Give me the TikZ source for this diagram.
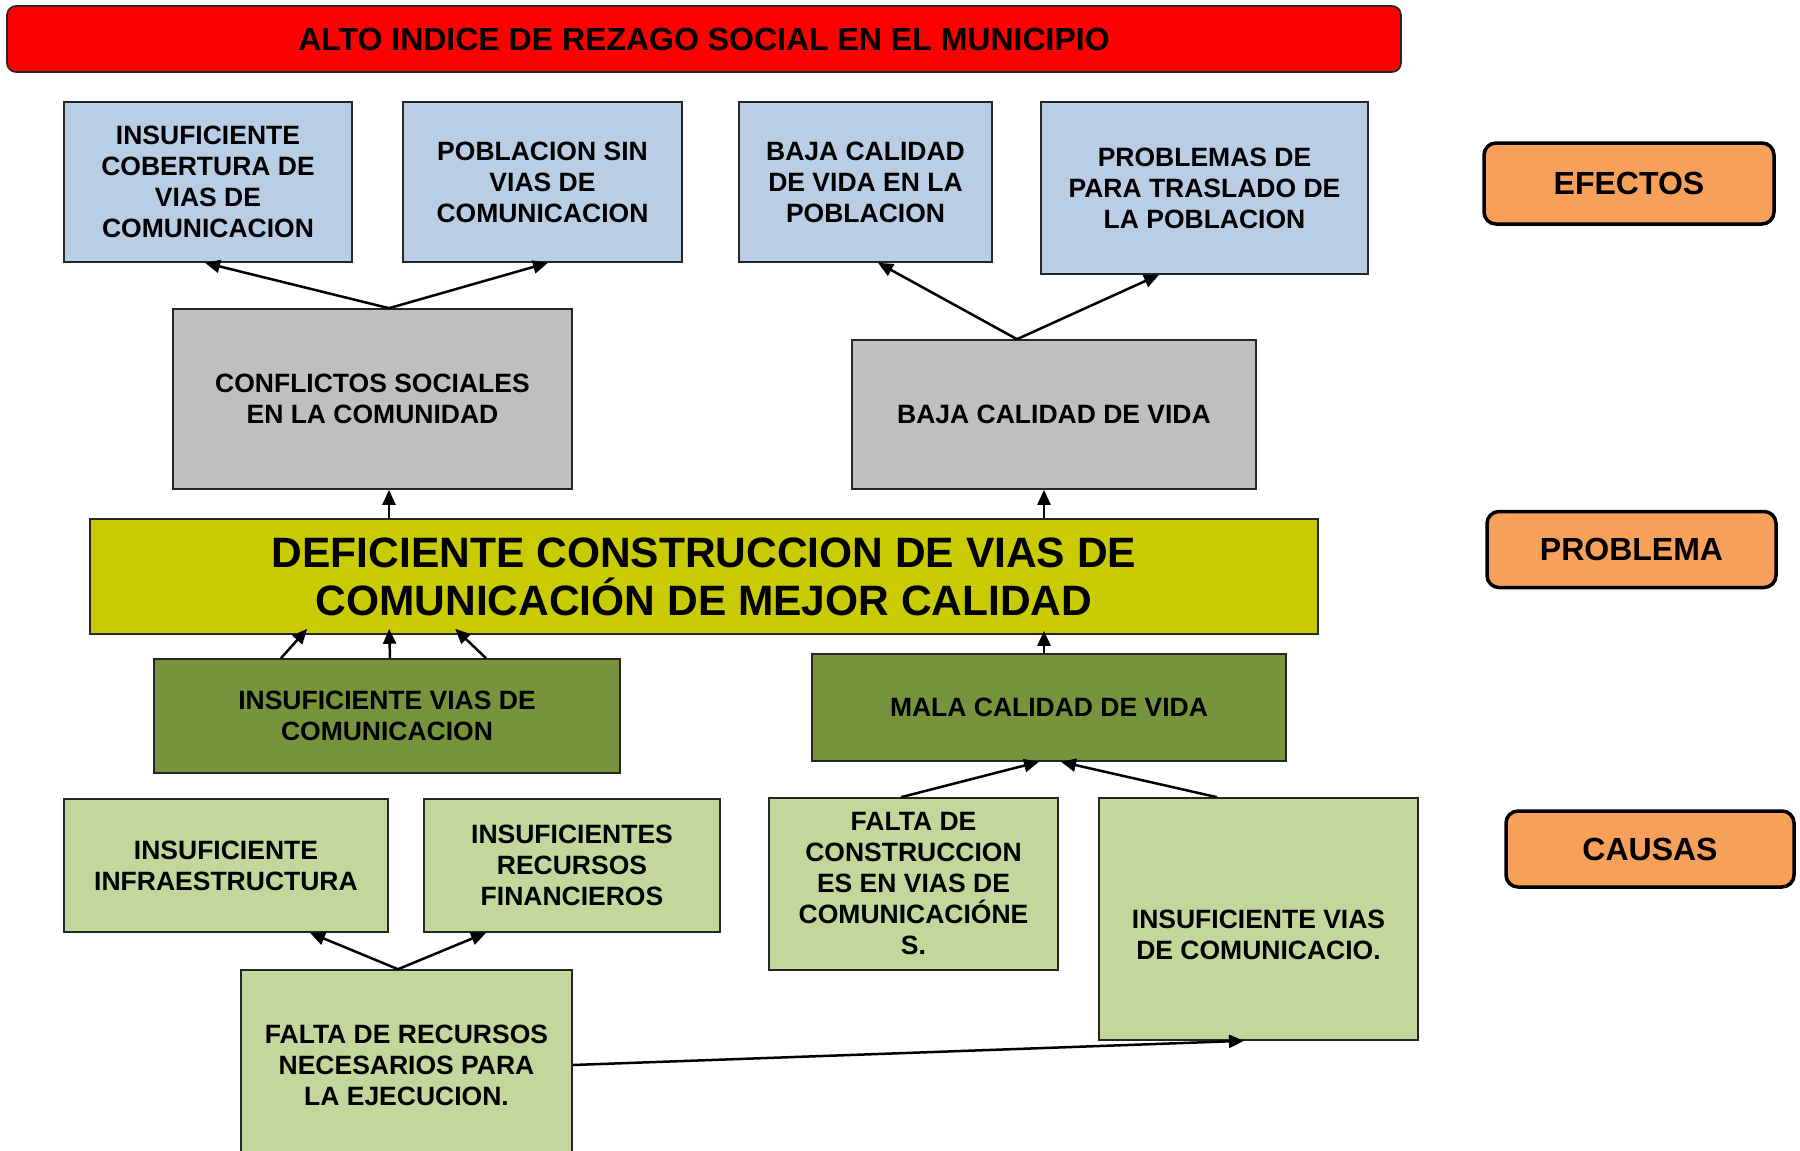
\documentclass[tikz,border=0pt]{standalone}
\usepackage{fontspec}
\setmainfont{Liberation Sans}
\usetikzlibrary{arrows.meta}
\definecolor{titlered}{HTML}{FF0000}
\definecolor{effblue}{HTML}{B9CDE5}
\definecolor{effgray}{HTML}{BFBFBF}
\definecolor{probyel}{HTML}{C9CC05}
\definecolor{darkgrn}{HTML}{77933C}
\definecolor{lightgrn}{HTML}{C3D69B}
\definecolor{sideorg}{HTML}{F6A05A}
\definecolor{edge}{HTML}{262626}
\tikzset{
  box/.style={draw=edge, line width=1.6pt, inner sep=0pt, align=center,
    font=\bfseries\fontsize{26.5}{31}\selectfont},
  bluebox/.style={box, fill=effblue},
  graybox/.style={box, fill=effgray},
  dgbox/.style={box, fill=darkgrn},
  lgbox/.style={box, fill=lightgrn},
  sidebox/.style={draw=black, line width=3.5pt, rounded corners=12pt, fill=sideorg,
    inner sep=0pt, font=\bfseries\fontsize{32}{36}\selectfont},
  arr/.style={line width=2.5pt, draw=black, -{Triangle[length=15pt,width=13pt]}},
}
\begin{document}
\begin{tikzpicture}[x=1pt,y=-1pt]
\useasboundingbox[fill=white] (0,0) rectangle (1800,1151);
\begin{scope}
\clip (0,0) rectangle (1800,1151);
% title
\node[draw=edge, line width=1.6pt, rounded corners=9pt, fill=titlered, inner sep=0pt,
  minimum width=1394pt, minimum height=66pt, font=\bfseries\fontsize{32}{36}\selectfont]
  (title) at (704,39) {ALTO INDICE DE REZAGO SOCIAL EN EL MUNICIPIO};
% side labels
\node[sidebox, minimum width=290pt, minimum height=81pt] (efectos) at (1629,183.5) {EFECTOS};
\node[sidebox, minimum width=289pt, minimum height=76pt] (problema) at (1631.5,549.5) {PROBLEMA};
\node[sidebox, minimum width=288pt, minimum height=76pt] (causas) at (1650,849) {CAUSAS};
% effects
\node[bluebox, minimum width=288pt, minimum height=160pt] (b1) at (208,182)
  {INSUFICIENTE\\COBERTURA DE\\VIAS DE\\COMUNICACION};
\node[bluebox, minimum width=279pt, minimum height=160pt] (b2) at (542.5,182)
  {POBLACION SIN\\VIAS DE\\COMUNICACION};
\node[bluebox, minimum width=253pt, minimum height=160pt] (b3) at (865.5,182)
  {BAJA CALIDAD\\DE VIDA EN LA\\POBLACION};
\node[bluebox, minimum width=327pt, minimum height=172pt] (b4) at (1204.5,188)
  {PROBLEMAS DE\\PARA TRASLADO DE\\LA POBLACION};
\node[graybox, minimum width=399pt, minimum height=180pt] (g1) at (372.5,399)
  {CONFLICTOS SOCIALES\\EN LA COMUNIDAD};
\node[graybox, minimum width=404pt, minimum height=149pt] (g2) at (1054,414.5)
  {BAJA CALIDAD DE VIDA};
% problem
\node[box, fill=probyel, minimum width=1228pt, minimum height=115pt,
  font=\bfseries\fontsize{42.5}{48}\selectfont] (p) at (704,576.5)
  {DEFICIENTE CONSTRUCCION DE VIAS DE\\COMUNICACIÓN DE MEJOR CALIDAD};
% causes
\node[dgbox, minimum width=466pt, minimum height=114pt] (dg1) at (387,716)
  {INSUFICIENTE VIAS DE\\COMUNICACION};
\node[dgbox, minimum width=474pt, minimum height=107pt] (dg2) at (1049,707.5)
  {MALA CALIDAD DE VIDA};
\node[lgbox, minimum width=324pt, minimum height=133pt] (l1) at (226,865.5)
  {INSUFICIENTE\\INFRAESTRUCTURA};
\node[lgbox, minimum width=296pt, minimum height=133pt] (l2) at (572,865.5)
  {INSUFICIENTES\\RECURSOS\\FINANCIEROS};
\node[lgbox, minimum width=289pt, minimum height=172pt] (l3) at (913.5,884)
  {FALTA DE\\CONSTRUCCION\\ES EN VIAS DE\\COMUNICACIÓNE\\S.};
\node[lgbox, minimum width=319pt, minimum height=242pt] (l4) at (1258.5,919) {};
\node[inner sep=0pt, align=center, font=\bfseries\fontsize{26.5}{31}\selectfont]
  (l4t) at ([yshift=-16pt]l4.center) {INSUFICIENTE VIAS\\DE COMUNICACIO.};
\node[lgbox, minimum width=331pt, minimum height=190pt] (l5) at (406.5,1065)
  {FALTA DE RECURSOS\\NECESARIOS PARA\\LA EJECUCION.};
% arrows: effects
\draw[arr] ([xshift=16.5pt]g1.north) -- ([xshift=-3pt]b1.south);
\draw[arr] ([xshift=16.5pt]g1.north) -- ([xshift=5.5pt]b2.south);
\draw[arr] ([xshift=-37pt]g2.north) -- ([xshift=12.5pt]b3.south);
\draw[arr] ([xshift=-37pt]g2.north) -- ([xshift=-45.5pt]b4.south);
\draw[arr] ([xshift=16.5pt]g1.south |- p.north) -- ([xshift=16.5pt]g1.south);
\draw[arr] ([xshift=-10pt]g2.south |- p.north) -- ([xshift=-10pt]g2.south);
% arrows: causes to problem
\draw[arr] ([xshift=-106pt]dg1.north) -- ([shift={(218pt,6pt)}]p.south west);
\draw[arr] ([xshift=3pt]dg1.north) -- ([shift={(300pt,6pt)}]p.south west);
\draw[arr] ([xshift=99pt]dg1.north) -- ([shift={(366pt,6pt)}]p.south west);
\draw[arr] ([xshift=-5pt]dg2.north) -- ([shift={(-5pt,4pt)}]dg2.north |- p.south);
\draw[arr] ([xshift=-12.5pt]l3.north) -- ([xshift=-10pt]dg2.south);
\draw[arr] ([xshift=-41.5pt]l4.north) -- ([xshift=12pt]dg2.south);
\draw[arr] ([xshift=-8.5pt]l5.north) -- ([xshift=84pt]l1.south);
\draw[arr] ([xshift=-8.5pt]l5.north) -- ([xshift=-86pt]l2.south);
\draw[arr] (l5.east) -- ([xshift=-14.5pt]l4.south);
\end{scope}
\end{tikzpicture}
\end{document}
